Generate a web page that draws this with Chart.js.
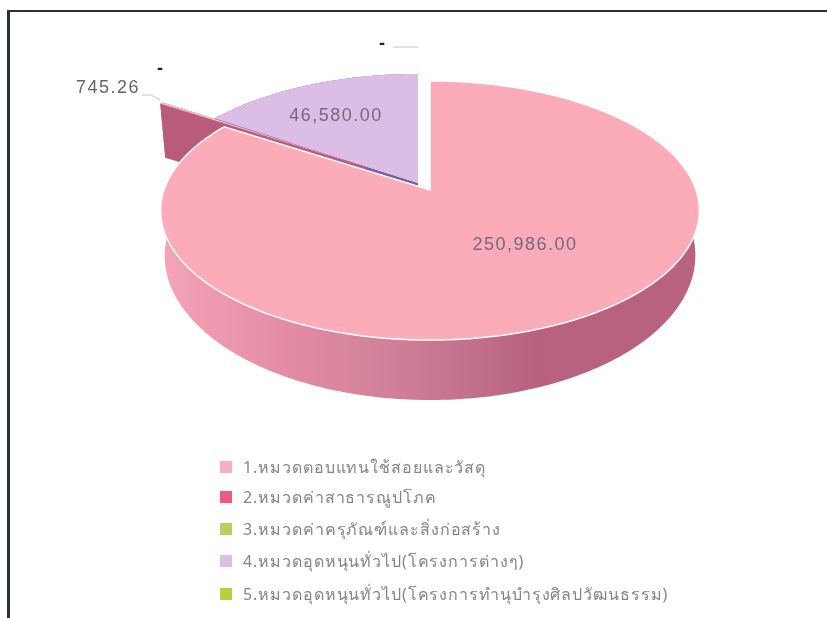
<!DOCTYPE html>
<html lang="th">
<head>
<meta charset="utf-8">
<title>Pie</title>
<script src="https://cdn.jsdelivr.net/npm/chart.js@4/dist/chart.umd.min.js"></script>
<style>
    html, body { margin: 0; padding: 0; background: #fff; overflow: hidden; }
    #stage { position: relative; width: 827px; height: 618px; }
    #frameTop { position: absolute; left: 7px; top: 10px; width: 820px; height: 2px; background: #2b2e3f; }
    #frameLeft { position: absolute; left: 7px; top: 10px; width: 3px; height: 608px; background: #2b2e3f; }
    canvas { position: absolute; left: 0; top: 0; }
    .legend-row { position: absolute; left: 220px; display: flex; align-items: center; font: 16px "Noto Sans", "Liberation Sans", sans-serif; letter-spacing: 0.9px; color: #858585; white-space: nowrap; }
    .legend-box { width: 12px; height: 12px; margin-right: 11px; }
</style>
</head>
<body>
<div id="stage">
    <div id="frameTop"></div>
    <div id="frameLeft"></div>
    <canvas id="pieChart" width="827" height="618"></canvas>
    <div id="pieLegend"></div>
</div>
<script>
const categories = [
    '1.หมวดตอบแทนใช้สอยและวัสดุ',
    '2.หมวดค่าสาธารณูปโภค',
    '3.หมวดค่าครุภัณฑ์และสิ่งก่อสร้าง',
    '4.หมวดอุดหนุนทั่วไป(โครงการต่างๆ)',
    '5.หมวดอุดหนุนทั่วไป(โครงการทำนุบำรุงศิลปวัฒนธรรม)'
];
const amounts = [250986, 745.26, 0, 46580, 0];
const valueLabels = ['250,986.00', '745.26', '-', '46,580.00', '-'];
const legendColors = ['#fbaebd', '#ee5a80', '#b8cf62', '#dcbde6', '#b8d040'];

// look of the 3D slices
const topColors = ['#fcabb9', '#f7b8c6', '#b8cf62', '#dcbde6', '#b8d040'];
const wallColors = ['#c0647f', '#b95c7b', '#8a9c48', '#7a5fa5', '#8a9c48'];
const sliceShift = [[0, 0], [-64, -23], [0, 0], [-12, -7], [0, 0]];
const wallDrop = [[0, 0], [5, 54], [0, 0], [0, 54], [0, 0]];
const labelSpots = [[525, 245], [108, 88], [160, 69], [336, 116], [382, 44]];
const drawOrder = [3, 1, 0];

const squash = 0.475;
const perspective = 0.158;

// disc point at canvas angle a -> screen
function project(arc, a, shift) {
    const v = Math.sin(a);
    const w = 1 - perspective * v;
    return {
        x: arc.x + shift[0] + arc.outerRadius * Math.cos(a) / w,
        y: arc.y + shift[1] + arc.outerRadius * squash * v / w
    };
}

function rimPoints(arc, shift) {
    const pts = [];
    const steps = Math.max(2, Math.ceil((arc.endAngle - arc.startAngle) / 0.008));
    for (let i = 0; i <= steps; i++) {
        const a = arc.startAngle + (arc.endAngle - arc.startAngle) * i / steps;
        pts.push(project(arc, a, shift));
    }
    return pts;
}

// lower edge of the wall: the big slice follows the measured lower ellipse,
// pulled out slices just drop down
function lowerPoint(pt, arc, i) {
    const drop = wallDrop[i];
    if (drop[1]) return { x: pt.x + drop[0], y: pt.y + drop[1] };
    return {
        x: arc.x + (pt.x - arc.x) * 0.985,
        y: 255 + (pt.y - 210) * 1.115
    };
}

function fillPoly(ctx, pts) {
    ctx.beginPath();
    pts.forEach((p, i) => i ? ctx.lineTo(p.x, p.y) : ctx.moveTo(p.x, p.y));
    ctx.closePath();
    ctx.fill();
}

const pie3d = {
    id: 'pie3d',
    beforeDatasetsDraw(chart) {
        const ctx = chart.ctx;
        const arcs = chart.getDatasetMeta(0).data;

        const pinkWall = ctx.createLinearGradient(160, 0, 700, 0);
        pinkWall.addColorStop(0, '#f5a4b8');
        pinkWall.addColorStop(0.22, '#e48da5');
        pinkWall.addColorStop(0.44, '#d07f98');
        pinkWall.addColorStop(0.63, '#bc6a88');
        pinkWall.addColorStop(0.7, '#b86080');
        pinkWall.addColorStop(1, '#b9637f');

        drawOrder.forEach(i => {
            const arc = arcs[i];
            const shift = sliceShift[i];
            const shifted = shift[0] !== 0 || shift[1] !== 0;
            const rim = rimPoints(arc, shift);
            const apex = { x: arc.x + shift[0], y: arc.y + shift[1] };

            ctx.save();
            ctx.fillStyle = shifted ? wallColors[i] : pinkWall;
            // outer wall
            const low = rim.map(p => lowerPoint(p, arc, i));
            fillPoly(ctx, rim.concat(low.slice().reverse()));
            // cut faces
            if (shifted) {
                [rim[0], rim[rim.length - 1]].forEach(p => {
                    fillPoly(ctx, [apex, p, lowerPoint(p, arc, i), lowerPoint(apex, arc, i)]);
                });
            }
            // top
            ctx.fillStyle = topColors[i];
            ctx.beginPath();
            ctx.moveTo(apex.x, apex.y);
            rim.forEach(p => ctx.lineTo(p.x, p.y));
            ctx.closePath();
            ctx.fill();
            if (!shifted) {
                ctx.strokeStyle = '#fff';
                ctx.lineWidth = 1.5;
                ctx.stroke();
            }
            ctx.restore();
        });
        return false;
    },
    afterDraw(chart) {
        const ctx = chart.ctx;
        ctx.save();
        // leaders
        ctx.strokeStyle = '#c4c4c4';
        ctx.lineWidth = 1;
        ctx.beginPath();
        ctx.moveTo(142, 95);
        ctx.lineTo(151, 95);
        ctx.lineTo(160, 100);
        ctx.moveTo(393, 47);
        ctx.lineTo(418, 47);
        ctx.stroke();

        ctx.textAlign = 'center';
        ctx.textBaseline = 'middle';
        valueLabels.forEach((text, i) => {
            const isDash = text === '-';
            ctx.font = (isDash ? 'bold ' : '') + '18px "Liberation Sans", Arial, sans-serif';
            ctx.letterSpacing = isDash ? '0px' : '1.5px';
            ctx.fillStyle = isDash ? '#222' : (i === 1 ? '#666' : '#75697f');
            ctx.fillText(text, labelSpots[i][0], labelSpots[i][1]);
        });
        ctx.restore();
    }
};

const pieChart = new Chart(document.getElementById('pieChart'), {
    type: 'pie',
    data: {
        labels: categories,
        datasets: [{
            data: amounts,
            backgroundColor: legendColors,
            borderWidth: 0
        }]
    },
    options: {
        responsive: false,
        animation: false,
        radius: 266,
        layout: { padding: { left: 33, right: 0, top: 0, bottom: 238 } },
        plugins: {
            legend: { display: false },
            tooltip: { enabled: false }
        }
    },
    plugins: [pie3d]
});

// Legend
const legendRows = [467, 497, 529, 561, 594];
document.getElementById('pieLegend').innerHTML = categories.map((name, i) => `
    <div class="legend-row" style="top:${legendRows[i] - 12}px;height:24px">
        <span class="legend-box" style="background:${legendColors[i]}"></span>
        <span>${name}</span>
    </div>
`).join('');
</script>
</body>
</html>
